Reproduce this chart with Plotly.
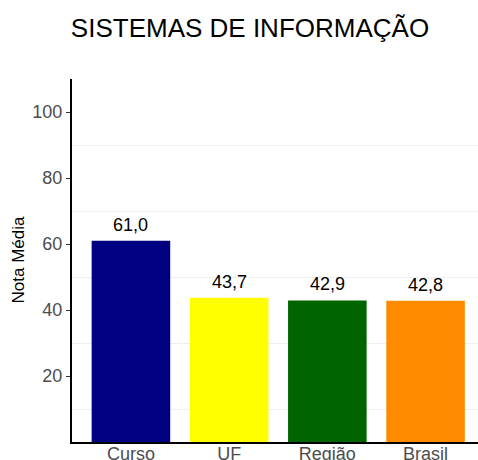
import plotly.graph_objects as go

categories = ["Curso", "UF", "Região", "Brasil"]
values = [61.0, 43.7, 42.9, 42.8]
colors = ["#000080", "#FFFF00", "#006400", "#FF8C00"]
y_ticks = [20, 40, 60, 80, 100]
title = "SISTEMAS DE INFORMAÇÃO"
y_title = "Nota Média"

labels = [f"{v:.1f}".replace(".", ",") for v in values]

FONT = "Liberation Sans"
L, R, T, B = 72, 0, 79, 18
W, H = 478, 460
pw = W - L - R

fig = go.Figure()
fig.add_trace(go.Bar(
    x=list(range(len(categories))), y=values, marker=dict(color=colors, line=dict(width=0)),
    width=0.8, showlegend=False, hoverinfo="skip",
))
for i, (v, t) in enumerate(zip(values, labels)):
    fig.add_annotation(x=i, y=v, text=t, showarrow=False, yshift=16,
                       font=dict(size=18, color="black", family=FONT))

fig.add_annotation(xref="paper", yref="paper", x=(18 - L) / pw, y=0.5,
                   text=y_title, textangle=-90, showarrow=False,
                   xanchor="center", yanchor="middle",
                   font=dict(size=17, color="black", family=FONT))

fig.update_layout(
    width=W, height=H,
    margin=dict(l=L, r=R, t=T, b=B, autoexpand=False),
    paper_bgcolor="white", plot_bgcolor="white",
    font=dict(family=FONT, size=18, color="#4d4d4d"),
    title=dict(text=title, x=250 / W, xanchor="center", y=1 - 28 / H, yanchor="middle",
               xref="container", yref="container", automargin=False,
               font=dict(size=26, color="black", family=FONT)),
)
fig.update_xaxes(
    range=[-0.6, 3.534], tickvals=list(range(len(categories))), ticktext=categories,
    showline=True, linecolor="black", linewidth=2, ticks="", showgrid=False,
    zeroline=False, tickfont=dict(size=18, color="#4d4d4d", family=FONT),
    ticklabelstandoff=-6, automargin=False,
)
fig.update_yaxes(
    range=[0, 110], tickvals=y_ticks, showline=True, linecolor="black", linewidth=2,
    ticks="outside", ticklen=4, tickcolor="#333333", tickwidth=1,
    showgrid=False,
    minor=dict(tickvals=[10, 30, 50, 70, 90, 110], showgrid=True, gridcolor="#efefef",
               gridwidth=1, ticks=""),
    zeroline=False, tickfont=dict(size=18, color="#4d4d4d", family=FONT),
    automargin=False,
)
fig.write_html("out.html", config={"displayModeBar": False},
               post_script="document.body.style.margin='0px';document.body.style.overflow='hidden';")
